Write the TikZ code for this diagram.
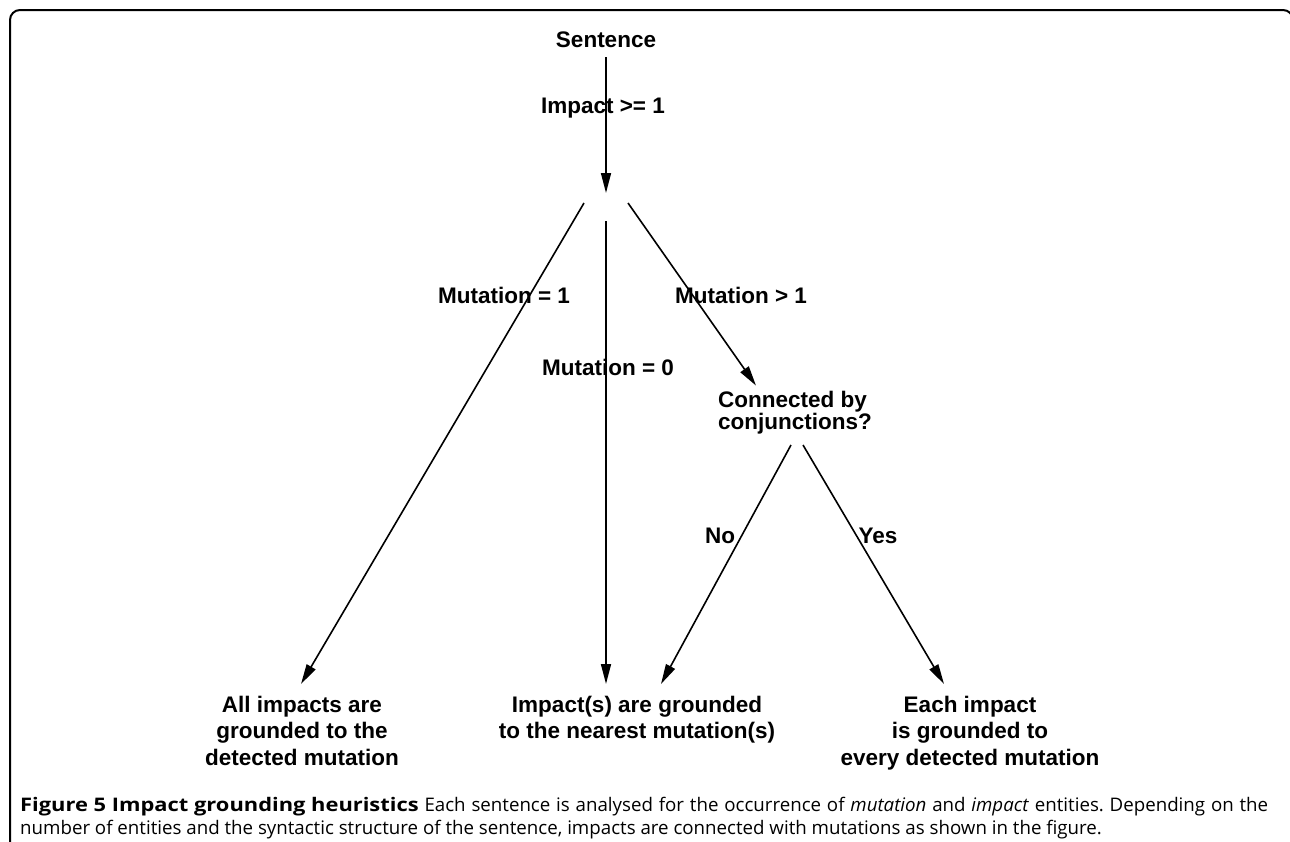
\documentclass[tikz,border=0pt]{standalone}
\usepackage{fontspec}
\usepackage{graphicx}
\setmainfont{Liberation Sans}
\newfontfamily\capfont{Open Sans}
\usetikzlibrary{arrows.meta,calc}
\frenchspacing
\begin{document}
\begin{tikzpicture}[x=1pt,y=1pt,
  lbl/.style={font=\bfseries\fontsize{22.5}{26.5}\selectfont, inner sep=0pt},
  res/.style={lbl, align=center, anchor=north},
  arr/.style={line width=1.6pt, -{Triangle[length=20pt,width=10pt]}},
  capstyle/.style={anchor=base west, inner sep=0pt, font=\capfont\fontsize{18.7}{23}\selectfont}]
\useasboundingbox (0,0) rectangle (1290,-841);
\begin{scope}
\clip (0,0) rectangle (1290,-841);
\draw[line width=2pt, rounded corners=10pt] (10,-870) -- (10,-10) -- (1293,-10) -- (1293,-870);
\end{scope}

\node[lbl, anchor=base] (sent) at (606,-47) {Sentence};
\coordinate (j) at (606,-193);
\node[lbl, anchor=base] (l1) at (603,-113) {Impact >= 1};
\draw[arr] ($(sent.base)+(0,-10)$) -- (j);

\node[res] (all) at (302,-695.6) {All impacts are\\grounded to the\\detected mutation};
\node[res] (near) at (637,-695.6) {Impact(s) are grounded\\to the nearest mutation(s)};
\node[res] (every) at (970,-695.6) {Each impact\\is grounded to\\every detected mutation};
\node[lbl, align=left, anchor=north west, font=\bfseries\fontsize{22.5}{20}\selectfont] (conn) at (718,-390.6) {Connected by\\conjunctions?};

\draw[arr] ($(j)+(-22,-10)$) -- ($(all.north)+(-1,11.6)$);
\draw[arr] ($(j)+(0,-28)$) -- ($(near.north)+(-31,11.6)$);
\draw[arr] ($(j)+(22,-10)$) -- ($(conn.north west)+(38,5)$);
\draw[arr] ($(conn.north west)+(73,-54.4)$) -- ($(near.north)+(24,11.6)$);
\draw[arr] ($(conn.north west)+(85,-54.4)$) -- ($(every.north)+(-26,11.6)$);

\node[lbl, anchor=base] (m1) at (504,-303) {Mutation = 1};
\node[lbl, anchor=base] (m2) at (741,-303) {Mutation > 1};
\node[lbl, anchor=base] (m0) at (608,-375) {Mutation = 0};
\node[lbl, anchor=base] (no) at (720,-543) {No};
\node[lbl, anchor=base] (yes) at (878,-543) {Yes};

\node[capstyle] (cap1) at (20,-811) {\makebox[1248pt][s]{\scalebox{1.17}[1]{\textbf{Figure 5 Impact grounding heuristics}} Each sentence is analysed for the occurrence of \textit{mutation} and \textit{impact} entities. Depending on the}};
\node[capstyle] (cap2) at (20,-834) {number of entities and the syntactic structure of the sentence, impacts are connected with mutations as shown in the figure.};
\end{tikzpicture}
\end{document}
